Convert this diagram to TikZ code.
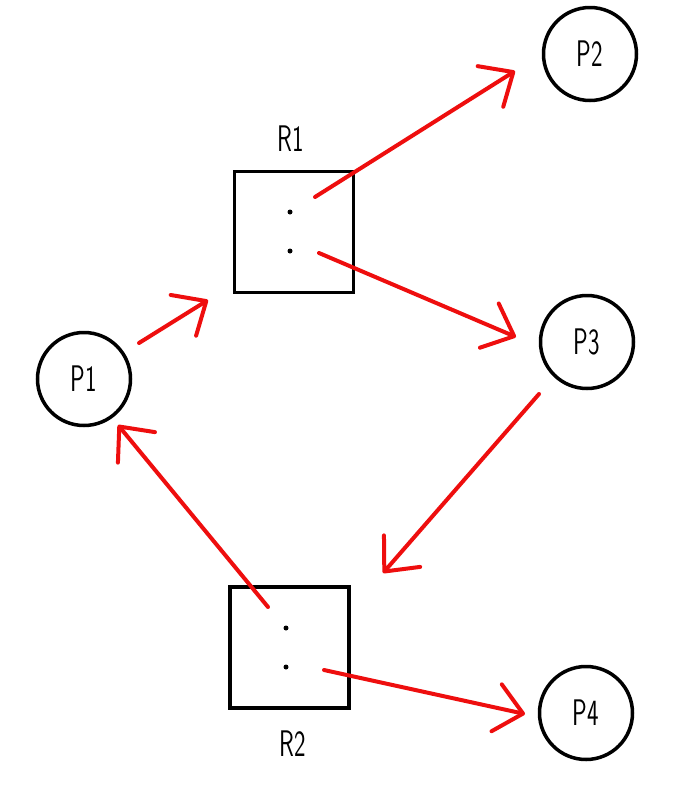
\documentclass[tikz,border=0pt]{standalone}
\usepackage{graphicx}
\usetikzlibrary{arrows.meta}
\definecolor{arrred}{RGB}{238,14,14}
\tikzset{
  proc/.style={circle,draw=black,line width=3.5pt,minimum size=93pt,inner sep=0pt,font=\fontsize{37}{37}\sffamily},
  res/.style={rectangle,draw=black,line width=3.5pt,minimum width=119pt,minimum height=121pt,inner sep=0pt},
  dotn/.style={circle,fill=black,minimum size=5pt,inner sep=0pt},
  lbl/.style={font=\fontsize{37}{37}\sffamily,inner sep=0pt},
  req/.style={draw=arrred,line width=4pt,line cap=round,-{Straight Barb[length=27pt,width=48pt,line cap=round,line join=round]}}
}
\newcommand{\nar}[1]{\scalebox{0.66}[1]{#1}}
\begin{document}
\begin{tikzpicture}[x=1pt,y=-1pt]
\useasboundingbox (0,0) rectangle (698,785);
% processes
\node[proc] (p1) at (84,379) {\nar{P1}};
\node[proc] (p2) at (590,54) {\nar{P2}};
\node[proc] (p3) at (587,342) {\nar{P3}};
\node[proc] (p4) at (586,713) {\nar{P4}};
% resources
\node[res] (r1) at (294,232) {};
\node[lbl] (r1l) at (291,139) {\nar{R1}};
\node[dotn] (r1a) at (290,212) {};
\node[dotn] (r1b) at (290,251) {};
\node[res] (r2) at (289.5,647.5) {};
\node[lbl] (r2l) at (293,744) {\nar{R2}};
\node[dotn] (r2a) at (286,628) {};
\node[dotn] (r2b) at (286,667) {};
% arrow end points
\coordinate (a1s) at (139,343); \coordinate (a1e) at (208,300);
\coordinate (a2s) at (315,197); \coordinate (a2e) at (515,71);
\coordinate (a3s) at (319,253); \coordinate (a3e) at (516,337);
\coordinate (a4s) at (539,394); \coordinate (a4e) at (383,573);
\coordinate (a5s) at (268,607); \coordinate (a5e) at (118,425);
\coordinate (a6s) at (324,670); \coordinate (a6e) at (525,714);
% arrows
\draw[req] (a1s) -- (a1e);
\draw[req] (a2s) -- (a2e);
\draw[req] (a3s) -- (a3e);
\draw[req] (a4s) -- (a4e);
\draw[req] (a5s) -- (a5e);
\draw[req] (a6s) -- (a6e);
\end{tikzpicture}
\end{document}
